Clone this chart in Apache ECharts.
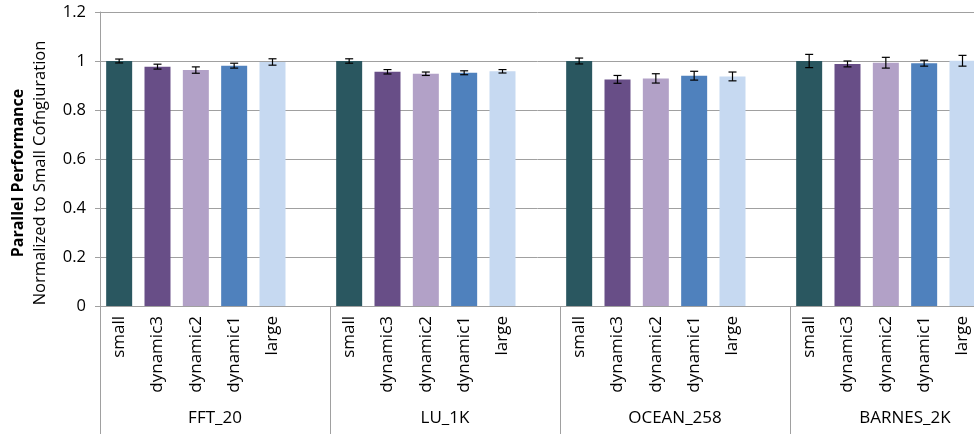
<!DOCTYPE html>
<html>
<head>
<meta charset="utf-8">
<script src="https://cdn.jsdelivr.net/npm/echarts@6/dist/echarts.min.js"></script>
<style>
  html, body { margin: 0; padding: 0; background: #fff; }
  #chart { width: 974px; height: 434px; }
</style>
</head>
<body>
<div id="chart"></div>
<script>
// Benchmarks and cache configurations
const groups = ['FFT_20', 'LU_1K', 'OCEAN_258', 'BARNES_2K'];
const configs = ['small', 'dynamic3', 'dynamic2', 'dynamic1', 'large'];
const configColors = ['#2a5760', '#684e87', '#b2a1c7', '#4f81bd', '#c6d9f1'];

// Normalized parallel performance, one array per benchmark (order follows configs)
const fftValues    = [1.000, 0.977, 0.963, 0.981, 0.996];
const luValues     = [1.000, 0.956, 0.948, 0.952, 0.958];
const oceanValues  = [1.000, 0.925, 0.929, 0.940, 0.937];
const barnesValues = [1.000, 0.988, 0.993, 0.991, 1.001];

// Half-width of the error bars
const fftErr    = [0.008, 0.010, 0.013, 0.010, 0.013];
const luErr     = [0.009, 0.009, 0.007, 0.008, 0.007];
const oceanErr  = [0.012, 0.016, 0.019, 0.018, 0.018];
const barnesErr = [0.027, 0.012, 0.022, 0.012, 0.022];

const yTicks = { min: 0, max: 1.2, step: 0.2 };

const allValues = [fftValues, luValues, oceanValues, barnesValues];
const allErr = [fftErr, luErr, oceanErr, barnesErr];

// Each benchmark occupies six slots: five bars plus an empty spacer slot
const categories = [];
const barData = [];
const errData = [];
groups.forEach((g, gi) => {
  configs.forEach((c, ci) => {
    const idx = categories.length;
    categories.push(c);
    const v = allValues[gi][ci];
    barData.push({ value: v, itemStyle: { color: configColors[ci] } });
    errData.push([idx, v - allErr[gi][ci], v + allErr[gi][ci]]);
  });
  categories.push('');
  barData.push('-');
});

const font = 'Open Sans';
const gray = '#a0a0a0';

const chart = echarts.init(document.getElementById('chart'));
chart.setOption({
  animation: false,
  grid: {
    left: 100, top: 12, width: 920, height: 294,
    containLabel: false, outerBoundsMode: 'none'
  },
  xAxis: [
    {
      type: 'category',
      data: categories,
      axisLine: { lineStyle: { color: gray, width: 1 } },
      axisTick: { show: false },
      axisLabel: {
        interval: 0, rotate: 90, margin: 10,
        fontFamily: font, fontSize: 17, color: '#000'
      }
    },
    {
      type: 'category',
      data: groups,
      position: 'bottom',
      axisLine: { show: false },
      axisTick: { show: true, interval: 0, length: 128, lineStyle: { color: gray, width: 1 } },
      axisLabel: {
        interval: 0, margin: 104,
        fontFamily: font, fontSize: 17, color: '#000'
      }
    }
  ],
  yAxis: {
    type: 'value',
    min: yTicks.min, max: yTicks.max, interval: yTicks.step,
    axisLine: { show: true, lineStyle: { color: gray, width: 1 } },
    axisTick: { show: true, length: 5, lineStyle: { color: gray } },
    axisLabel: { margin: 14, fontFamily: font, fontSize: 16.5, color: '#000' },
    splitLine: { lineStyle: { color: gray, width: 1 } }
  },
  graphic: [
    {
      type: 'text', x: 18, y: 173, rotation: Math.PI / 2,
      style: {
        text: 'Parallel Performance', fontFamily: font, fontWeight: 'bold',
        fontSize: 16, fill: '#000', align: 'center', verticalAlign: 'middle'
      }
    },
    {
      type: 'text', x: 40, y: 173, rotation: Math.PI / 2,
      style: {
        text: 'Normalized to Small Cofngiuration', fontFamily: font,
        fontSize: 16.5, fill: '#000', align: 'center', verticalAlign: 'middle'
      }
    }
  ],
  series: [
    {
      type: 'bar',
      xAxisIndex: 0,
      data: barData,
      barWidth: 26
    },
    {
      type: 'custom',
      xAxisIndex: 0,
      data: errData,
      z: 10,
      renderItem: function (params, api) {
        const x = api.value(0);
        const lo = api.coord([x, api.value(1)]);
        const hi = api.coord([x, api.value(2)]);
        const cap = 4;
        const st = { stroke: '#000', lineWidth: 1.2 };
        return {
          type: 'group',
          children: [
            { type: 'line', shape: { x1: lo[0], y1: lo[1], x2: hi[0], y2: hi[1] }, style: st },
            { type: 'line', shape: { x1: lo[0] - cap, y1: lo[1], x2: lo[0] + cap, y2: lo[1] }, style: st },
            { type: 'line', shape: { x1: hi[0] - cap, y1: hi[1], x2: hi[0] + cap, y2: hi[1] }, style: st }
          ]
        };
      }
    }
  ]
});
</script>
</body>
</html>
